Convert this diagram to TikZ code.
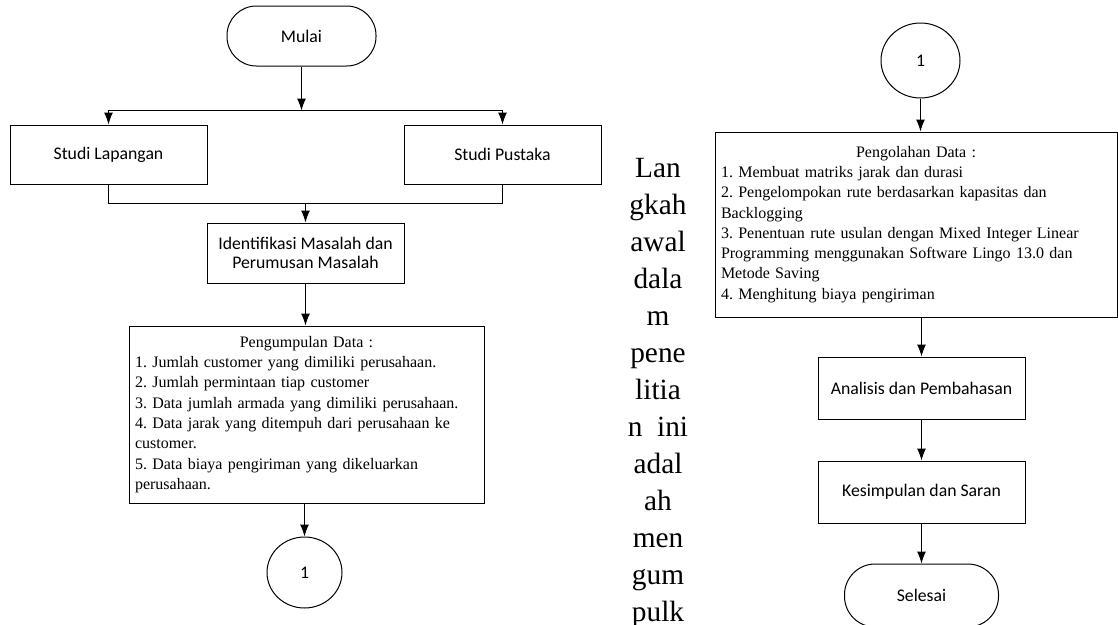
\documentclass[tikz,border=0pt]{standalone}
\usepackage{fontspec}
\setmainfont{Liberation Serif}
\newfontfamily\calibri{Carlito}
\usetikzlibrary{positioning, arrows.meta, shapes.geometric}

\newcommand{\labelfont}{\calibri\fontsize{13.3}{14.6}\selectfont}
\newcommand{\listfont}{\frenchspacing\fontsize{12}{15.2}\selectfont}

\begin{document}
\begin{tikzpicture}[
    x=0.75pt, y=-0.75pt, line width=0.75pt,
    termin/.style={rectangle, draw, rounded corners=22pt, minimum width=111.75pt, minimum height=45pt, font=\labelfont},
    proses/.style={rectangle, draw, minimum width=147.75pt, minimum height=44.25pt, align=center, font=\labelfont},
    daftar/.style={rectangle, draw, inner xsep=4.5pt, align=left, font=\listfont},
    konektor/.style={ellipse, draw, inner sep=0pt, minimum width=56.25pt, minimum height=53.25pt, font=\labelfont},
    panah/.style={-{Latex[length=9pt,width=6.75pt]}}
    ]
    \useasboundingbox (0,0) rectangle (1118,625);
    \fill[white] (0,0) rectangle (1118,625);

    % kolom kiri
    \node [termin] (mulai) at (301.5,36) {Mulai};
    \node [proses] (lapangan) at (108.5,154.5) {Studi Lapangan};
    \node [proses] (pustaka) at (502.5,154.5) {Studi Pustaka};
    \node [proses, minimum height=45pt] (ident) at (305.5,253) {Identifikasi Masalah dan\\Perumusan Masalah};
    \node [daftar, text width=257.25pt, minimum height=132.75pt] (kumpul) at (306.5,414.5) {%
      {\centering Pengumpulan Data :\par}
      1. Jumlah customer yang dimiliki perusahaan.\\
      2. Jumlah permintaan tiap customer\\
      3. Data jumlah armada yang dimiliki perusahaan.\\
      4. Data jarak yang ditempuh dari perusahaan ke\\
      customer.\\
      5. Data biaya pengiriman yang dikeluarkan\\
      perusahaan.};
    \node [konektor] (satuA) at (304.5,572.5) {1};
    \coordinate [below=33pt of mulai] (cabang);
    \coordinate [above=14.25pt of ident] (gabung);

    % teks di tengah
    \node [anchor=north, inner sep=0pt, align=center, font=\fontsize{22}{27.75}\selectfont] (langkah) at (658,158)
      {Lan\\gkah\\awal\\dala\\m\\pene\\litia\\n~~ini\\adal\\ah\\men\\gum\\pulk};

    % kolom kanan
    \node [konektor, minimum width=59.25pt, minimum height=56.25pt] (satuB) at (920.5,60.5) {1};
    \node [daftar, text width=292.5pt, minimum height=138.75pt] (olah) at (916,224.5) {%
      {\centering Pengolahan Data :\par}
      1. Membuat matriks jarak dan durasi\\
      2. Pengelompokan rute berdasarkan kapasitas dan\\
      Backlogging\\
      3. Penentuan rute usulan dengan Mixed Integer Linear\\
      Programming menggunakan Software Lingo 13.0 dan\\
      Metode Saving\\
      4. Menghitung biaya pengiriman};
    \node [proses, minimum width=155.25pt, minimum height=46.5pt] (analisis) at (921.5,388) {Analisis dan Pembahasan};
    \node [proses, minimum width=155.25pt, minimum height=46.5pt, below=30.75pt of analisis] (simpul) {Kesimpulan dan Saran};
    \node [termin, minimum width=115.5pt, minimum height=47.25pt, rounded corners=23pt, below=30pt of simpul] (selesai) {Selesai};

    % panah
    \draw [panah] (mulai.south) -- (cabang);
    \draw [panah] (cabang) -| (lapangan.north);
    \draw [panah] (cabang) -| (pustaka.north);
    \draw (lapangan.south) |- (gabung) -| (pustaka.south);
    \draw [panah] (gabung) -- (ident.north);
    \draw [panah] (ident.south) -- (ident.south |- kumpul.north);
    \draw [panah] (kumpul.south -| satuA.north) -- (satuA.north);
    \draw [panah] (satuB.south) -- (satuB.south |- olah.north);
    \draw [panah] (olah.south -| analisis.north) -- (analisis.north);
    \draw [panah] (analisis) -- (simpul);
    \draw [panah] (simpul) -- (selesai);
\end{tikzpicture}
\end{document}
